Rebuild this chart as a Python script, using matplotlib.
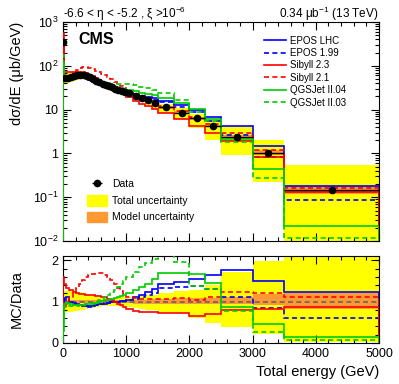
import matplotlib.pyplot as plt
from matplotlib.lines import Line2D
from matplotlib.patches import Patch
from matplotlib.ticker import FixedLocator, FixedFormatter, MultipleLocator, NullFormatter
import numpy as np

plt.rcParams['font.family'] = ['Liberation Sans', 'DejaVu Sans']
plt.rcParams['mathtext.fontset'] = 'custom'
plt.rcParams['mathtext.rm'] = 'Liberation Sans'

# bin edges in GeV
edges = [0, 10, 50, 100, 150, 200, 250, 300, 350, 400, 450, 500, 550, 600, 650,
         700, 750, 800, 850, 900, 950, 1000, 1100, 1200, 1300, 1400, 1500,
         1750, 2000, 2250, 2500, 3000, 3500, 5000]

# measured d sigma / dE  (ub/GeV)
data = [350, 52, 53, 55, 58, 61, 62, 61, 58, 54, 50, 46, 42, 39, 36.5, 34, 32,
        30, 28.5, 27, 25.5, 23.4, 20.8, 18, 16.2, 14, 11.2, 8.5, 6.3, 4.2, 2.4,
        1.0, 0.148]

# total uncertainty band, as ratio to data
tot_hi = [1.30, 1.26, 1.26, 1.26, 1.25, 1.24, 1.22, 1.20, 1.18, 1.15, 1.13,
          1.11, 1.10, 1.09, 1.08, 1.08, 1.08, 1.09, 1.10, 1.11, 1.12, 1.12,
          1.14, 1.15, 1.16, 1.17, 1.20, 1.25, 1.28, 1.40, 1.72, 1.98, 3.7]
tot_lo = [0.70, 0.76, 0.76, 0.76, 0.77, 0.78, 0.79, 0.80, 0.82, 0.84, 0.85,
          0.87, 0.88, 0.89, 0.90, 0.90, 0.90, 0.89, 0.89, 0.88, 0.88, 0.87,
          0.84, 0.82, 0.80, 0.79, 0.75, 0.72, 0.60, 0.47, 0.39, 0.22, 0.03]

# model uncertainty band, as ratio to data
mod_hi = [1.05, 1.04, 1.04, 1.04, 1.04, 1.04, 1.04, 1.04, 1.03, 1.03, 1.03,
          1.03, 1.03, 1.03, 1.03, 1.03, 1.03, 1.03, 1.03, 1.03, 1.04, 1.04,
          1.05, 1.05, 1.05, 1.06, 1.07, 1.08, 1.08, 1.08, 1.10, 1.18, 1.20]
mod_lo = [0.95, 0.96, 0.96, 0.96, 0.96, 0.96, 0.96, 0.96, 0.97, 0.97, 0.97,
          0.97, 0.97, 0.97, 0.97, 0.97, 0.97, 0.97, 0.97, 0.97, 0.96, 0.96,
          0.95, 0.95, 0.95, 0.94, 0.93, 0.93, 0.93, 0.93, 0.95, 0.92, 0.82]

# MC / data
epos_lhc = [1.00, 1.08, 1.12, 1.00, 0.95, 0.93, 0.91, 0.90, 0.89, 0.88, 0.89,
            0.91, 0.93, 0.94, 0.95, 0.97, 0.98, 0.99, 1.00, 1.01, 1.02, 1.05,
            1.10, 1.15, 1.22, 1.30, 1.43, 1.47, 1.55, 1.64, 1.76, 1.51, 1.24]
epos_199 = [1.00, 1.05, 1.08, 1.00, 0.96, 0.94, 0.92, 0.91, 0.90, 0.90, 0.91,
            0.92, 0.93, 0.95, 0.96, 0.97, 0.98, 0.99, 1.00, 1.01, 1.02, 1.03,
            1.06, 1.10, 1.15, 1.20, 1.32, 1.35, 1.37, 1.30, 1.12, 0.85, 0.60]
sibyll_23 = [1.60, 1.42, 1.33, 1.28, 1.24, 1.21, 1.19, 1.18, 1.17, 1.16, 1.15,
             1.14, 1.13, 1.12, 1.10, 1.07, 1.03, 0.99, 0.95, 0.91, 0.88, 0.82,
             0.77, 0.76, 0.75, 0.74, 0.73, 0.72, 0.66, 0.71, 0.80, 0.83, 0.88]
sibyll_21 = [1.00, 0.85, 0.95, 1.08, 1.20, 1.32, 1.43, 1.53, 1.60, 1.64, 1.66,
             1.68, 1.69, 1.68, 1.65, 1.60, 1.52, 1.43, 1.34, 1.26, 1.19, 1.12,
             1.08, 1.07, 1.06, 1.06, 1.07, 1.08, 1.05, 1.10, 1.22, 1.20, 1.11]
qgsjet_04 = [0.30, 0.95, 0.97, 0.94, 0.92, 0.92, 0.91, 0.92, 0.93, 0.94, 0.95,
             0.97, 0.99, 1.01, 1.03, 1.05, 1.07, 1.09, 1.11, 1.13, 1.15, 1.20,
             1.27, 1.36, 1.43, 1.55, 1.68, 1.70, 1.66, 1.45, 0.87, 0.45, 0.15]
qgsjet_03 = [0.50, 0.88, 0.90, 0.90, 0.90, 0.90, 0.91, 0.92, 0.93, 0.95, 0.97,
             1.00, 1.03, 1.07, 1.11, 1.16, 1.22, 1.28, 1.35, 1.42, 1.50, 1.60,
             1.72, 1.83, 1.93, 2.03, 2.17, 1.97, 1.37, 1.30, 0.78, 0.27, 0.078]

models = [
    ('EPOS LHC', epos_lhc, '#0000ff', '-'),
    ('EPOS 1.99', epos_199, '#0000ff', (0, (3, 2))),
    ('Sibyll 2.3', sibyll_23, '#ff0000', '-'),
    ('Sibyll 2.1', sibyll_21, '#ff0000', (0, (3, 2))),
    ('QGSJet II.04', qgsjet_04, '#00cc00', '-'),
    ('QGSJet II.03', qgsjet_03, '#00cc00', (0, (3, 2))),
]

edges = np.array(edges, dtype=float)
data = np.array(data)
centers = 0.5 * (edges[1:] + edges[:-1])
halfw = 0.5 * (edges[1:] - edges[:-1])

yellow = '#ffff00'
orange = '#ff9933'

fig = plt.figure(figsize=(3.99, 3.84), dpi=100)
ax = fig.add_axes([0.158, 0.372, 0.792, 0.571])
rax = fig.add_axes([0.158, 0.107, 0.792, 0.226])

# ---- top panel
ax.stairs(data * np.array(tot_hi), edges, baseline=data * np.array(tot_lo),
          fill=True, color=yellow, lw=0, zorder=1)
ax.stairs(data * np.array(mod_hi), edges, baseline=data * np.array(mod_lo),
          fill=True, color=orange, lw=0, zorder=2)
for name, r, c, ls in models:
    ax.stairs(data * np.array(r), edges, baseline=1e-5, color=c, ls=ls,
              lw=1.2, zorder=3)
ax.errorbar(centers, data, xerr=halfw, fmt='o', color='black', ms=4.5,
            elinewidth=1.0, zorder=5)

ax.set_yscale('log')
ax.set_xlim(0, 5000)
ax.set_ylim(1e-2, 1e3)
ax.yaxis.set_major_locator(FixedLocator([1e-2, 1e-1, 1, 10, 1e2, 1e3]))
ax.yaxis.set_major_formatter(FixedFormatter(
    [r'$\mathregular{10^{-2}}$', r'$\mathregular{10^{-1}}$', '1', '10',
     r'$\mathregular{10^{2}}$', r'$\mathregular{10^{3}}$']))
minors = [m * 10.0 ** e for e in range(-2, 3) for m in range(2, 10)]
ax.yaxis.set_minor_locator(FixedLocator(minors))
ax.yaxis.set_minor_formatter(NullFormatter())
ax.xaxis.set_major_locator(MultipleLocator(1000))
ax.xaxis.set_minor_locator(MultipleLocator(200))
ax.set_xticklabels([])
ax.set_ylabel('dσ/dE (μb/GeV)', fontsize=10.5, loc='top')

ax.text(0.05, 0.955, 'CMS', transform=ax.transAxes, fontsize=11.5,
        fontweight='bold', va='top', ha='left')

leg1 = ax.legend([Line2D([], [], color=c, ls=ls, lw=1.2) for _, _, c, ls in models],
                 [m[0] for m in models], loc='upper left',
                 bbox_to_anchor=(0.62, 0.96), frameon=False, fontsize=7,
                 handlelength=2.3, handletextpad=0.4, labelspacing=0.25,
                 borderpad=0)
ax.add_artist(leg1)
dh = ax.errorbar([], [], xerr=[], fmt='o', color='black', ms=4.5, elinewidth=1.0)
ax.legend([dh, Patch(color=yellow), Patch(color=orange)],
          ['Data', 'Total uncertainty', 'Model uncertainty'],
          loc='upper left', bbox_to_anchor=(0.06, 0.31), frameon=False,
          fontsize=7.5, handlelength=1.9, handleheight=1.2,
          handletextpad=0.5, labelspacing=0.55, borderpad=0)

fig.text(0.158, 0.952, '-6.6 < η < -5.2 , ξ >$\\mathregular{10^{-6}}$',
         fontsize=8.5, ha='left', va='baseline')
fig.text(0.95, 0.952, '0.34 μb$\\mathregular{^{-1}}$ (13 TeV)',
         fontsize=8.5, ha='right', va='baseline')

# ---- ratio panel
rax.stairs(tot_hi, edges, baseline=tot_lo, fill=True, color=yellow, lw=0, zorder=1)
rax.stairs(mod_hi, edges, baseline=mod_lo, fill=True, color=orange, lw=0, zorder=2)
rax.axhline(1, color='#666666', ls=(0, (3, 2)), lw=1.2, zorder=3)
for name, r, c, ls in models:
    rax.stairs(r, edges, baseline=-1, color=c, ls=ls, lw=1.2, zorder=4)

rax.set_xlim(0, 5000)
rax.set_ylim(0, 2.1)
rax.yaxis.set_major_locator(FixedLocator([0, 1, 2]))
rax.yaxis.set_minor_locator(MultipleLocator(0.2))
rax.xaxis.set_major_locator(MultipleLocator(1000))
rax.xaxis.set_minor_locator(MultipleLocator(200))
rax.set_ylabel('MC/Data', fontsize=10.5)
rax.set_xlabel('Total energy (GeV)', fontsize=10.5, loc='right')

for a in (ax, rax):
    a.tick_params(which='both', direction='in', top=True, right=True,
                  labelsize=9, width=0.8)
    a.tick_params(which='major', length=6)
    a.tick_params(which='minor', length=3)
    for s in a.spines.values():
        s.set_linewidth(0.8)

ax.yaxis.set_label_coords(-0.125, 1.0)
rax.yaxis.set_label_coords(-0.125, 0.5)

fig.savefig('out.png', dpi=100)
